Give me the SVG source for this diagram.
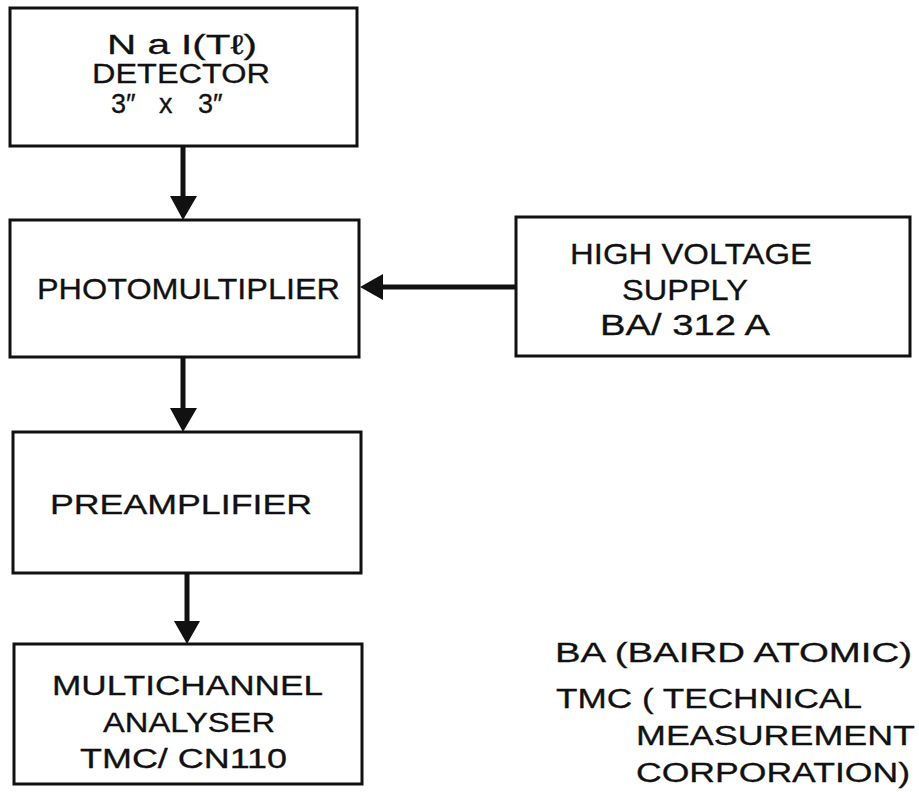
<svg xmlns="http://www.w3.org/2000/svg" width="919" height="792" viewBox="0 0 919 792">
<style>
.box{fill:#fff;stroke:#111;stroke-width:3}
.t{font-family:"Liberation Sans",Arial,sans-serif;font-size:27px;fill:#111;stroke:#111;stroke-width:0.3}
.c{font-family:"Liberation Sans",Arial,sans-serif;font-size:30px;fill:#111;stroke:#111;stroke-width:0.3}
.sh{stroke:#111;stroke-width:5;fill:none}
.hd{fill:#111}
</style>
<rect width="919" height="792" fill="#fff"/>
<g id="detector">
<rect class="box" x="10" y="8" width="347" height="138"/>
<text class="t" x="107" y="54" font-size="29" textLength="150" lengthAdjust="spacingAndGlyphs">N a I(Tℓ)</text>
<text class="t" x="92" y="83" font-size="28" textLength="178" lengthAdjust="spacingAndGlyphs">DETECTOR</text>
<text class="t" y="113" font-size="28"><tspan x="111">3″</tspan><tspan x="159">x</tspan><tspan x="198">3″</tspan></text>
</g>
<g id="photomultiplier">
<rect class="box" x="10" y="220" width="349" height="137"/>
<text class="c" x="37" y="299" textLength="303" lengthAdjust="spacingAndGlyphs">PHOTOMULTIPLIER</text>
</g>
<g id="hvsupply">
<rect class="box" x="516" y="217" width="394" height="139"/>
<text class="c" x="570" y="264" textLength="242" lengthAdjust="spacingAndGlyphs">HIGH VOLTAGE</text>
<text class="c" x="622" y="300" textLength="126" lengthAdjust="spacingAndGlyphs">SUPPLY</text>
<text class="c" x="600" y="335" textLength="170" lengthAdjust="spacingAndGlyphs">BA/ 312 A</text>
</g>
<g id="preamplifier">
<rect class="box" x="13" y="432" width="348" height="141"/>
<text class="t" x="50" y="514" textLength="262" lengthAdjust="spacingAndGlyphs">PREAMPLIFIER</text>
</g>
<g id="mca">
<rect class="box" x="14" y="644" width="348" height="140"/>
<text class="t" x="52" y="695" textLength="271" lengthAdjust="spacingAndGlyphs">MULTICHANNEL</text>
<text class="t" x="103" y="732" textLength="172" lengthAdjust="spacingAndGlyphs">ANALYSER</text>
<text class="t" x="80" y="768" textLength="207" lengthAdjust="spacingAndGlyphs">TMC/ CN110</text>
</g>
<g id="legend">
<text class="t" x="555" y="662" textLength="357" lengthAdjust="spacingAndGlyphs">BA  (BAIRD ATOMIC)</text>
<text class="t" x="556" y="708" textLength="306" lengthAdjust="spacingAndGlyphs">TMC  ( TECHNICAL</text>
<text class="t" x="636" y="745" textLength="279" lengthAdjust="spacingAndGlyphs">MEASUREMENT</text>
<text class="t" x="636" y="782" textLength="274" lengthAdjust="spacingAndGlyphs">CORPORATION)</text>
</g>
<g id="connectors">
<line class="sh" x1="183" y1="146" x2="183" y2="198"/>
<polygon class="hd" points="170,196 197,196 183,220"/>
<line class="sh" x1="183" y1="357" x2="183" y2="410"/>
<polygon class="hd" points="170,408 197,408 183,432"/>
<line class="sh" x1="187" y1="573" x2="187" y2="622"/>
<polygon class="hd" points="174,621 200,621 187,644"/>
<line class="sh" x1="516" y1="287" x2="380" y2="287"/>
<polygon class="hd" points="383,274 383,300 360,287"/>
</g>
</svg>
